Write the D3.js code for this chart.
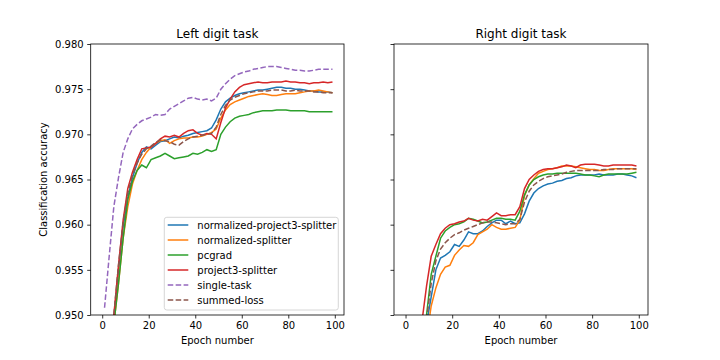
<!DOCTYPE html>
<html>
<head>
<meta charset="utf-8">
<script src="https://cdn.jsdelivr.net/npm/d3@7/dist/d3.min.js"></script>
<style>
body { margin: 0; background: #fff; }
svg { font-family: "DejaVu Sans", sans-serif; }
</style>
</head>
<body>
<svg id="chart" width="720" height="360"></svg>
<script>
// epochs (every other epoch)
var epochs = [1, 3, 5, 7, 9, 11, 13, 15, 17, 19, 21, 23, 25, 27, 29, 31, 33, 35, 37, 39,
    41, 43, 45, 47, 49, 51, 53, 55, 57, 59, 61, 63, 65, 67, 69, 71, 73, 75, 77, 79,
    81, 83, 85, 87, 89, 91, 93, 95, 97, 99];

var names = ["normalized-project3-splitter", "normalized-splitter", "pcgrad",
    "project3-splitter", "single-task", "summed-loss"];
var colors = ["#1f77b4", "#ff7f0e", "#2ca02c", "#d62728", "#9467bd", "#8c564b"];
var dashed = [false, false, false, false, true, true];

var yTicks = [0.950, 0.955, 0.960, 0.965, 0.970, 0.975, 0.980];
var xTicks = [0, 20, 40, 60, 80, 100];

// left digit task
var leftNormP3 = [0.944, 0.947, 0.9495, 0.9550, 0.9598, 0.9630, 0.9652, 0.9668, 0.9680, 0.9686,
    0.9684, 0.9688, 0.9692, 0.9693, 0.9695, 0.9697, 0.9696, 0.9698, 0.9699, 0.9701,
    0.9702, 0.9703, 0.9704, 0.9707, 0.9716, 0.9728, 0.9736, 0.9740, 0.9743, 0.9745,
    0.9746, 0.9747, 0.9748, 0.9749, 0.9749, 0.9750, 0.9751, 0.9752, 0.9752, 0.9751,
    0.9751, 0.9750, 0.9750, 0.9749, 0.9748, 0.9748, 0.9747, 0.9747, 0.9747, 0.9746];
var leftNorm = [0.943, 0.946, 0.9490, 0.9535, 0.9585, 0.9620, 0.9645, 0.9660, 0.9672, 0.9680,
    0.9686, 0.9690, 0.9693, 0.9694, 0.9690, 0.9693, 0.9695, 0.9696, 0.9696, 0.9697,
    0.9697, 0.9698, 0.9700, 0.9702, 0.9706, 0.9718, 0.9727, 0.9733, 0.9736, 0.9738,
    0.9740, 0.9742, 0.9743, 0.9744, 0.9745, 0.9744, 0.9743, 0.9743, 0.9744, 0.9745,
    0.9745, 0.9745, 0.9746, 0.9747, 0.9748, 0.9748, 0.9749, 0.9748, 0.9747, 0.9746];
var leftPcgrad = [0.943, 0.946, 0.9490, 0.9535, 0.9585, 0.9628, 0.9648, 0.9660, 0.9666, 0.9663,
    0.9672, 0.9674, 0.9676, 0.9679, 0.9676, 0.9673, 0.9674, 0.9675, 0.9676, 0.9679,
    0.9678, 0.9680, 0.9683, 0.9681, 0.9683, 0.9700, 0.9708, 0.9714, 0.9718, 0.9720,
    0.9721, 0.9722, 0.9724, 0.9725, 0.9726, 0.9726, 0.9726, 0.9727, 0.9727, 0.9727,
    0.9726, 0.9726, 0.9726, 0.9726, 0.9725, 0.9725, 0.9725, 0.9725, 0.9725, 0.9725];
var leftP3 = [0.945, 0.947, 0.9500, 0.9555, 0.9605, 0.9640, 0.9658, 0.9672, 0.9684, 0.9685,
    0.9686, 0.9690, 0.9695, 0.9698, 0.9697, 0.9699, 0.9697, 0.9701, 0.9704, 0.9705,
    0.9701, 0.9699, 0.9701, 0.9700, 0.9695, 0.9713, 0.9729, 0.9739, 0.9747, 0.9752,
    0.9755, 0.9756, 0.9757, 0.9758, 0.9757, 0.9757, 0.9758, 0.9758, 0.9758, 0.9759,
    0.9758, 0.9758, 0.9757, 0.9757, 0.9756, 0.9757, 0.9757, 0.9758, 0.9757, 0.9758];
var leftSingle = [0.9508, 0.9565, 0.9620, 0.9652, 0.9680, 0.9695, 0.9706, 0.9711, 0.9715, 0.9717,
    0.9719, 0.9722, 0.9721, 0.9722, 0.9728, 0.9731, 0.9734, 0.9737, 0.9740, 0.9741,
    0.9739, 0.9738, 0.9739, 0.9737, 0.9740, 0.9750, 0.9756, 0.9761, 0.9765, 0.9767,
    0.9769, 0.9770, 0.9772, 0.9773, 0.9774, 0.9775, 0.9775, 0.9775, 0.9774, 0.9773,
    0.9772, 0.9771, 0.9771, 0.9770, 0.9770, 0.9771, 0.9772, 0.9772, 0.9772, 0.9772];
var leftSummed = [0.944, 0.947, 0.9500, 0.9555, 0.9603, 0.9635, 0.9655, 0.9668, 0.9678, 0.9684,
    0.9687, 0.9691, 0.9694, 0.9693, 0.9692, 0.9689, 0.9688, 0.9692, 0.9695, 0.9697,
    0.9698, 0.9699, 0.9700, 0.9701, 0.9708, 0.9722, 0.9732, 0.9738, 0.9741, 0.9743,
    0.9745, 0.9746, 0.9747, 0.9748, 0.9748, 0.9748, 0.9749, 0.9749, 0.9749, 0.9748,
    0.9748, 0.9749, 0.9748, 0.9748, 0.9748, 0.9747, 0.9747, 0.9746, 0.9746, 0.9746];

// right digit task (no single-task curve)
var rightNormP3 = [0.932, 0.937, 0.941, 0.945, 0.9490, 0.9520, 0.9550, 0.9563, 0.9566, 0.9570,
    0.9578, 0.9576, 0.9583, 0.9592, 0.9590, 0.9590, 0.9593, 0.9598, 0.9602, 0.9605,
    0.9605, 0.9601, 0.9604, 0.9601, 0.9602, 0.9612, 0.9626, 0.9635, 0.9640, 0.9643,
    0.9645, 0.9646, 0.9648, 0.9649, 0.9651, 0.9652, 0.9654, 0.9655, 0.9655, 0.9655,
    0.9655, 0.9656, 0.9655, 0.9655, 0.9655, 0.9656, 0.9656, 0.9655, 0.9654, 0.9652];
var rightNorm = [0.930, 0.935, 0.939, 0.943, 0.9475, 0.9510, 0.9530, 0.9545, 0.9553, 0.9555,
    0.9566, 0.9572, 0.9577, 0.9576, 0.9580, 0.9589, 0.9592, 0.9595, 0.9600, 0.9597,
    0.9595, 0.9595, 0.9596, 0.9597, 0.9605, 0.9632, 0.9644, 0.9651, 0.9657, 0.9659,
    0.9661, 0.9662, 0.9663, 0.9665, 0.9665, 0.9665, 0.9664, 0.9663, 0.9662, 0.9661,
    0.9661, 0.9660, 0.9660, 0.9661, 0.9662, 0.9662, 0.9662, 0.9662, 0.9662, 0.9661];
var rightPcgrad = [0.933, 0.938, 0.942, 0.946, 0.9500, 0.9545, 0.9565, 0.9585, 0.9593, 0.9597,
    0.9600, 0.9601, 0.9603, 0.9607, 0.9606, 0.9604, 0.9602, 0.9603, 0.9605, 0.9607,
    0.9607, 0.9606, 0.9606, 0.9605, 0.9615, 0.9633, 0.9644, 0.9650, 0.9653, 0.9655,
    0.9656, 0.9656, 0.9657, 0.9657, 0.9657, 0.9657, 0.9657, 0.9656, 0.9655, 0.9655,
    0.9654, 0.9653, 0.9655, 0.9656, 0.9656, 0.9656, 0.9656, 0.9656, 0.9657, 0.9658];
var rightP3 = [0.935, 0.940, 0.945, 0.9492, 0.9532, 0.9565, 0.9578, 0.9590, 0.9596, 0.9600,
    0.9601, 0.9603, 0.9604, 0.9607, 0.9605, 0.9604, 0.9606, 0.9605, 0.9609, 0.9613,
    0.9610, 0.9610, 0.9611, 0.9611, 0.9620, 0.9640, 0.9650, 0.9655, 0.9659, 0.9661,
    0.9662, 0.9662, 0.9663, 0.9664, 0.9666, 0.9665, 0.9663, 0.9666, 0.9667, 0.9667,
    0.9667, 0.9666, 0.9665, 0.9665, 0.9666, 0.9666, 0.9666, 0.9666, 0.9666, 0.9665];
var rightSummed = [0.932, 0.937, 0.941, 0.945, 0.9495, 0.9535, 0.9560, 0.9573, 0.9580, 0.9585,
    0.9589, 0.9591, 0.9594, 0.9596, 0.9598, 0.9600, 0.9602, 0.9603, 0.9603, 0.9602,
    0.9601, 0.9600, 0.9601, 0.9601, 0.9606, 0.9625, 0.9637, 0.9644, 0.9648, 0.9651,
    0.9653, 0.9654, 0.9655, 0.9656, 0.9658, 0.9659, 0.9660, 0.9660, 0.9660, 0.9660,
    0.9660, 0.9660, 0.9661, 0.9661, 0.9661, 0.9662, 0.9662, 0.9662, 0.9662, 0.9662];

var leftSeries = [leftNormP3, leftNorm, leftPcgrad, leftP3, leftSingle, leftSummed];
var rightSeries = [rightNormP3, rightNorm, rightPcgrad, rightP3, null, rightSummed];

var svg = d3.select("#chart");
var top0 = 44, bottom0 = 315;

var y = d3.scaleLinear().domain([0.95, 0.98]).range([bottom0, top0]);

function drawPanel(left, right, title, series, id, showYLabels) {
    var x = d3.scaleLinear().domain([-4.95, 103.95]).range([left, right]);

    svg.append("clipPath")
        .attr("id", "clip" + id)
        .append("rect")
        .attr("x", left).attr("y", top0)
        .attr("width", right - left).attr("height", bottom0 - top0);

    var line = d3.line()
        .x(function(d, i) { return x(epochs[i]); })
        .y(function(d) { return y(d); });

    var lines = svg.append("g").attr("clip-path", "url(#clip" + id + ")");
    series.forEach(function(s, k) {
        if (!s) return;
        lines.append("path")
            .datum(s)
            .attr("d", line)
            .attr("fill", "none")
            .attr("stroke", colors[k])
            .attr("stroke-width", 1.5)
            .attr("stroke-dasharray", dashed[k] ? "5.55,2.4" : null);
    });

    var xAxis = d3.axisBottom(x).tickValues(xTicks).tickSize(3.5).tickPadding(3.5);
    var gx = svg.append("g")
        .attr("transform", "translate(0," + bottom0 + ")")
        .call(xAxis);

    var yAxis = d3.axisLeft(y).tickValues(yTicks).tickSize(3.5).tickPadding(3.5)
        .tickFormat(showYLabels ? d3.format(".3f") : "");
    var gy = svg.append("g")
        .attr("transform", "translate(" + left + ",0)")
        .call(yAxis);

    [gx, gy].forEach(function(g) {
        g.select(".domain").remove();
        g.selectAll(".tick line").attr("stroke", "#000").attr("stroke-width", 0.8);
        g.selectAll(".tick text").attr("fill", "#000")
            .style("font-size", "10px")
            .style("font-family", "'DejaVu Sans', sans-serif");
    });

    svg.append("rect")
        .attr("x", left).attr("y", top0)
        .attr("width", right - left).attr("height", bottom0 - top0)
        .attr("fill", "none").attr("stroke", "#000").attr("stroke-width", 0.8);

    svg.append("text")
        .text(title)
        .attr("x", (left + right) / 2).attr("y", 37.5)
        .attr("text-anchor", "middle")
        .style("font-size", "12px");

    svg.append("text")
        .text("Epoch number")
        .attr("x", (left + right) / 2).attr("y", 344)
        .attr("text-anchor", "middle")
        .style("font-size", "10px");
}

drawPanel(90.7, 344, "Left digit task", leftSeries, "L", true);
drawPanel(394, 648, "Right digit task", rightSeries, "R", false);

svg.append("text")
    .text("Classification accuracy")
    .attr("text-anchor", "middle")
    .attr("dominant-baseline", "central")
    .attr("transform", "translate(43.5," + ((top0 + bottom0) / 2) + ") rotate(-90)")
    .style("font-size", "10px");

// legend
var legend = svg.append("g");
legend.append("rect")
    .attr("x", 164.3).attr("y", 217.3)
    .attr("width", 174).attr("height", 92.7)
    .attr("rx", 2.5)
    .attr("fill", "#fff").attr("fill-opacity", 0.8)
    .attr("stroke", "#cccccc").attr("stroke-width", 0.8);

names.forEach(function(n, k) {
    var cy = 225 + k * 15;
    legend.append("line")
        .attr("x1", 167.7).attr("x2", 188.3)
        .attr("y1", cy).attr("y2", cy)
        .attr("stroke", colors[k])
        .attr("stroke-width", 1.5)
        .attr("stroke-dasharray", dashed[k] ? "5.55,2.4" : null);
    legend.append("text")
        .text(n)
        .attr("x", 197.3).attr("y", cy)
        .attr("dominant-baseline", "central")
        .style("font-size", "10px");
});
</script>
</body>
</html>
